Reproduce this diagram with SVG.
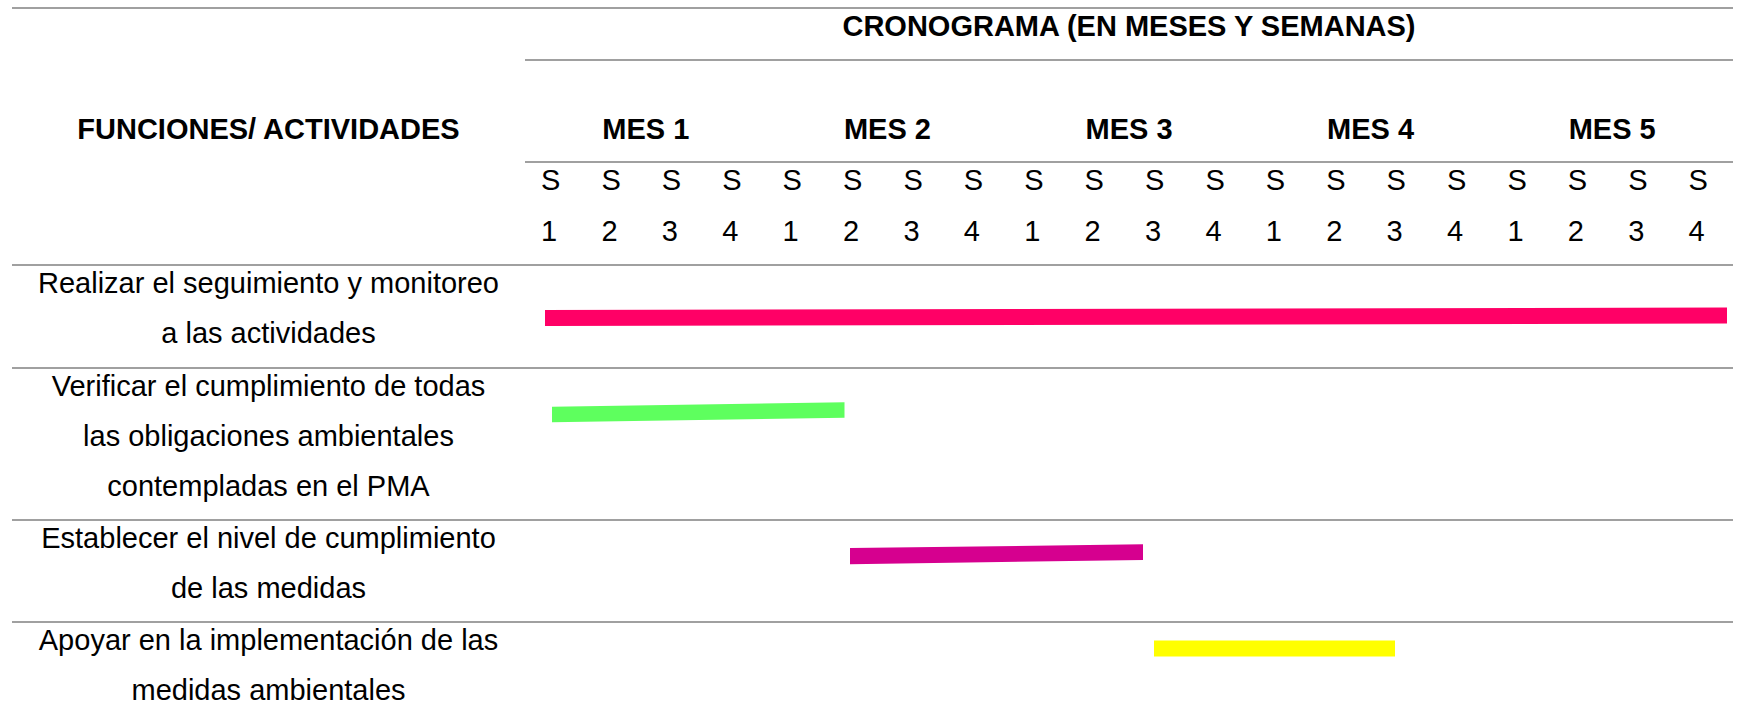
<svg xmlns="http://www.w3.org/2000/svg" width="1738" height="721" viewBox="0 0 1738 721">
<style>
  .grid line { stroke: #808080; stroke-width: 1.6; }
  text { font-family: "Liberation Sans", Arial, sans-serif; font-size: 29px; fill: #000; }
  .b { font-weight: bold; }
  .c { text-anchor: middle; }
</style>
<rect width="1738" height="721" fill="#ffffff"/>
<g id="grid" class="grid">
  <line x1="12" y1="8" x2="1733" y2="8"/>
  <line x1="525" y1="60" x2="1733" y2="60"/>
  <line x1="525" y1="162" x2="1733" y2="162"/>
  <line x1="12" y1="265" x2="1733" y2="265"/>
  <line x1="12" y1="368" x2="1733" y2="368"/>
  <line x1="12" y1="520" x2="1733" y2="520"/>
  <line x1="12" y1="622" x2="1733" y2="622"/>
</g>
<g id="header">
  <text class="b c" x="1129" y="36">CRONOGRAMA (EN MESES Y SEMANAS)</text>
  <text class="b c" x="268.5" y="139">FUNCIONES/ ACTIVIDADES</text>
  <text class="b c" x="645.8" y="139">MES 1</text>
  <text class="b c" x="887.4" y="139">MES 2</text>
  <text class="b c" x="1129" y="139">MES 3</text>
  <text class="b c" x="1370.6" y="139">MES 4</text>
  <text class="b c" x="1612.2" y="139">MES 5</text>
</g>
<g id="weeks">
  <text x="541" y="190">S</text><text x="601.4" y="190">S</text><text x="661.8" y="190">S</text><text x="722.2" y="190">S</text>
  <text x="782.6" y="190">S</text><text x="843" y="190">S</text><text x="903.4" y="190">S</text><text x="963.8" y="190">S</text>
  <text x="1024.2" y="190">S</text><text x="1084.6" y="190">S</text><text x="1145" y="190">S</text><text x="1205.4" y="190">S</text>
  <text x="1265.8" y="190">S</text><text x="1326.2" y="190">S</text><text x="1386.6" y="190">S</text><text x="1447" y="190">S</text>
  <text x="1507.4" y="190">S</text><text x="1567.8" y="190">S</text><text x="1628.2" y="190">S</text><text x="1688.6" y="190">S</text>
  <text x="541" y="241">1</text><text x="601.4" y="241">2</text><text x="661.8" y="241">3</text><text x="722.2" y="241">4</text>
  <text x="782.6" y="241">1</text><text x="843" y="241">2</text><text x="903.4" y="241">3</text><text x="963.8" y="241">4</text>
  <text x="1024.2" y="241">1</text><text x="1084.6" y="241">2</text><text x="1145" y="241">3</text><text x="1205.4" y="241">4</text>
  <text x="1265.8" y="241">1</text><text x="1326.2" y="241">2</text><text x="1386.6" y="241">3</text><text x="1447" y="241">4</text>
  <text x="1507.4" y="241">1</text><text x="1567.8" y="241">2</text><text x="1628.2" y="241">3</text><text x="1688.6" y="241">4</text>
</g>
<g id="row1">
  <text class="c" x="268.5" y="293">Realizar el seguimiento y monitoreo</text>
  <text class="c" x="268.5" y="343">a las actividades</text>
  <polygon points="545,310 1727,307.5 1727,323.5 545,326" fill="#FF0066"/>
</g>
<g id="row2">
  <text class="c" x="268.5" y="396">Verificar el cumplimiento de todas</text>
  <text class="c" x="268.5" y="446">las obligaciones ambientales</text>
  <text class="c" x="268.5" y="496">contempladas en el PMA</text>
  <polygon points="552,406.7 844.5,402.3 844.5,417.7 552,422.3" fill="#5EFF5E"/>
</g>
<g id="row3">
  <text class="c" x="268.5" y="548">Establecer el nivel de cumplimiento</text>
  <text class="c" x="268.5" y="598">de las medidas</text>
  <polygon points="850,548 1143,544.3 1143,560 850,564.3" fill="#D6008F"/>
</g>
<g id="row4">
  <text class="c" x="268.5" y="650">Apoyar en la implementación de las</text>
  <text class="c" x="268.5" y="700">medidas ambientales</text>
  <rect x="1154" y="640.5" width="241" height="16" fill="#FFFF00"/>
</g>
</svg>
